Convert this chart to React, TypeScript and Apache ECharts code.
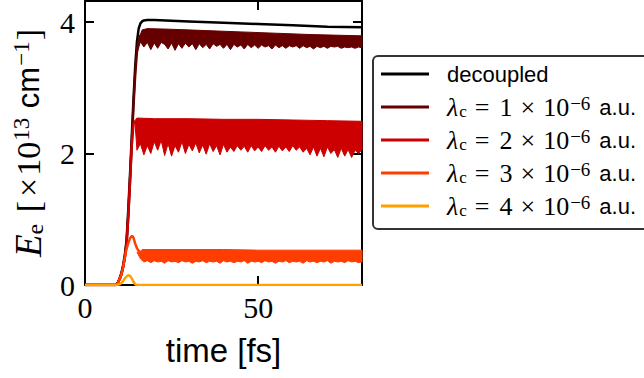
import React, { useEffect, useRef } from "react";
import * as echarts from "echarts";

const SERIF = "'Liberation Serif', 'DejaVu Serif', serif";
const SANS = "'Liberation Sans', Arial, sans-serif";

// ---- data (time in fs, E_e in 1e13 cm^-1) ----
const decoupledTime = [0, 9, 9.5, 10, 10.5, 11, 11.5, 12, 12.5, 13, 13.5, 14, 14.5, 15, 15.5, 16, 16.5, 17, 18, 20, 30, 40, 50, 60, 70, 80];
const decoupledValues = [0, 0, 0.04, 0.1, 0.18, 0.3, 0.46, 0.68, 1.15, 1.68, 2.25, 2.82, 3.33, 3.7, 3.9, 3.98, 4.01, 4.025, 4.03, 4.03, 4.01, 3.99, 3.97, 3.95, 3.93, 3.92];

const lam1Time = [0, 9, 9.5, 10, 10.5, 11, 11.5, 12, 12.5, 13, 13.5, 14, 14.5, 15, 15.5, 16];
const lam1Values = [0, 0, 0.03, 0.09, 0.16, 0.27, 0.42, 0.62, 1.05, 1.58, 2.15, 2.72, 3.2, 3.55, 3.72, 3.8];
const lam2Time = [0, 9, 9.5, 10, 10.5, 11, 11.5, 12, 12.5, 13, 13.5, 14, 14.4];
const lam2Values = [0, 0, 0.03, 0.09, 0.16, 0.27, 0.42, 0.62, 1.05, 1.58, 2.12, 2.45, 2.5];
const lam3Time = [0, 9, 9.5, 10, 10.5, 11, 11.5, 12, 12.5, 13, 13.6, 14, 14.5, 15, 15.5, 15.8];
const lam3Values = [0, 0, 0.03, 0.09, 0.16, 0.27, 0.42, 0.55, 0.64, 0.71, 0.75, 0.72, 0.63, 0.56, 0.52, 0.5];
const lam4Time = [0, 9, 10, 10.5, 11, 11.5, 12, 12.5, 13, 13.5, 14, 14.5, 15, 80];
const lam4Values = [0, 0, 0.01, 0.03, 0.06, 0.1, 0.13, 0.15, 0.14, 0.1, 0.05, 0.01, 0, 0];

// oscillation bands: upper envelope (coarse) and lower envelope (1 fs grid)
const band1UpperTime = [15.5, 16.5, 18, 25, 35, 45, 55, 65, 80];
const band1Upper = [3.74, 3.88, 3.9, 3.89, 3.87, 3.85, 3.83, 3.81, 3.79];
const band2UpperTime = [14.4, 15, 20, 30, 40, 50, 60, 70, 80];
const band2Upper = [2.5, 2.54, 2.53, 2.53, 2.52, 2.52, 2.51, 2.5, 2.49];
const band3UpperTime = [15.8, 16.5, 20, 30, 40, 50, 60, 70, 80];
const band3Upper = [0.5, 0.54, 0.54, 0.54, 0.54, 0.53, 0.53, 0.53, 0.53];

const bandLowerTime = [15, 16, 17, 18, 19, 20, 21, 22, 23, 24, 25, 26, 27, 28, 29, 30, 31, 32, 33, 34, 35, 36, 37, 38, 39, 40, 41, 42, 43, 44, 45, 46, 47, 48, 49, 50, 51, 52, 53, 54, 55, 56, 57, 58, 59, 60, 61, 62, 63, 64, 65, 66, 67, 68, 69, 70, 71, 72, 73, 74, 75, 76, 77, 78, 79, 80];
const band1Lower = [3.52, 3.7, 3.62, 3.69, 3.58, 3.68, 3.6, 3.69, 3.66, 3.59, 3.68, 3.57, 3.67, 3.6, 3.68, 3.62, 3.67, 3.58, 3.67, 3.61, 3.66, 3.59, 3.67, 3.63, 3.66, 3.6, 3.66, 3.58, 3.66, 3.62, 3.65, 3.59, 3.66, 3.61, 3.65, 3.6, 3.65, 3.62, 3.64, 3.59, 3.65, 3.61, 3.64, 3.6, 3.64, 3.62, 3.64, 3.6, 3.64, 3.61, 3.63, 3.59, 3.63, 3.61, 3.63, 3.6, 3.63, 3.62, 3.63, 3.6, 3.62, 3.61, 3.62, 3.6, 3.62, 3.61];
const band2Lower = [2.05, 2.15, 1.98, 2.12, 2.0, 2.18, 2.05, 2.2, 1.97, 2.15, 1.96, 2.12, 2.02, 2.18, 2.0, 2.14, 2.04, 2.16, 2.01, 2.13, 1.99, 2.15, 2.03, 2.12, 1.98, 2.14, 2.02, 2.1, 2.03, 2.12, 2.05, 2.11, 2.02, 2.12, 2.04, 2.1, 2.03, 2.12, 2.05, 2.1, 2.02, 2.11, 2.04, 2.1, 2.03, 2.12, 2.05, 2.1, 2.02, 2.08, 1.98, 2.1, 1.96, 2.08, 1.95, 2.1, 2.0, 2.06, 1.94, 2.08, 1.96, 2.06, 1.94, 2.05, 2.0, 2.06];
const band3Lower = [0.5, 0.4, 0.35, 0.37, 0.34, 0.37, 0.35, 0.36, 0.33, 0.37, 0.35, 0.36, 0.34, 0.37, 0.35, 0.36, 0.33, 0.36, 0.35, 0.37, 0.34, 0.36, 0.35, 0.36, 0.33, 0.37, 0.35, 0.36, 0.34, 0.36, 0.35, 0.37, 0.33, 0.36, 0.35, 0.36, 0.34, 0.37, 0.35, 0.36, 0.33, 0.36, 0.35, 0.37, 0.34, 0.36, 0.35, 0.36, 0.33, 0.37, 0.35, 0.36, 0.34, 0.36, 0.35, 0.37, 0.33, 0.36, 0.35, 0.36, 0.34, 0.37, 0.35, 0.36, 0.34, 0.35];

const couplings = [1, 2, 3, 4];
const seriesColors = ["#000000", "#660000", "#cc0000", "#ff3d00", "#ffa000"];
const seriesNames = ["decoupled", "λc = 1 × 10−6 a.u.", "λc = 2 × 10−6 a.u.", "λc = 3 × 10−6 a.u.", "λc = 4 × 10−6 a.u."];

const xTicksShown = [0, 50];
const yTicksShown = [0, 2, 4];

const zip = (t: number[], v: number[]) => t.map((x, i) => [x, v[i]]);

function bandSeries(upT: number[], up: number[], lowT: number[], low: number[], color: string) {
  return {
    type: "custom",
    silent: true,
    data: [[upT[0], up[0]]],
    encode: { x: 0, y: 1 },
    renderItem: (params: any, api: any) => {
      if (params.dataIndex !== 0) return null;
      const pts: number[][] = [];
      for (let i = 0; i < upT.length; i++) pts.push(api.coord([upT[i], up[i]]));
      for (let i = lowT.length - 1; i >= 0; i--) pts.push(api.coord([lowT[i], low[i]]));
      return {
        type: "polygon",
        shape: { points: pts },
        style: { fill: color, stroke: color, lineWidth: 1 },
      };
    },
  };
}

function lineSeries(name: string, t: number[], v: number[], color: string) {
  return {
    type: "line",
    name,
    data: zip(t, v),
    symbol: "none",
    color,
    lineStyle: { color, width: 2.5 },
  };
}

export default function App() {
  const ref = useRef<HTMLDivElement>(null);
  useEffect(() => {
    if (!ref.current) return;
    const chart = echarts.init(ref.current, undefined, { renderer: "svg" });
    const axisLine = { show: true, onZero: false, lineStyle: { color: "#000", width: 2 } };
    const axisTick = { show: true, inside: true, length: 9, lineStyle: { color: "#000", width: 2 } };
    const yName = "{it|E}{sub|e}{rm| [}{tm|×}{rm|10}{sup|13}{sf| cm}{sup|−1}{rm|]}";
    const legendRich = {
      sf: { fontFamily: SANS, fontSize: 22, color: "#000", lineHeight: 26 },
      it: { fontFamily: SERIF, fontStyle: "italic", fontSize: 26, color: "#000", lineHeight: 26 },
      sub: { fontFamily: SERIF, fontSize: 17, color: "#000", lineHeight: 17, verticalAlign: "bottom", padding: [0, 8, 0, 1] },
      eq: { fontFamily: SERIF, fontSize: 26, color: "#000", lineHeight: 26, padding: [0, 10, 0, 0] },
      num: { fontFamily: SERIF, fontSize: 26, color: "#000", lineHeight: 26, padding: [0, 8, 0, 0] },
      tm: { fontFamily: SERIF, fontSize: 26, color: "#000", lineHeight: 26, padding: [0, 8, 0, 0] },
      rm: { fontFamily: SERIF, fontSize: 26, color: "#000", lineHeight: 26 },
      sup: { fontFamily: SERIF, fontSize: 19, color: "#000", lineHeight: 19, verticalAlign: "top", padding: [0, 9, 0, 1] },
    };
    chart.setOption({
      animation: false,
      backgroundColor: "#fff",
      grid: { left: 85, right: 282, top: 1, bottom: 93, containLabel: false },
      xAxis: [
        {
          type: "value",
          min: 0,
          max: 80,
          interval: 50,
          position: "bottom",
          axisLine,
          axisTick,
          splitLine: { show: false },
          axisLabel: {
            margin: 7,
            color: "#000",
            fontFamily: SERIF,
            fontSize: 30,
            formatter: (v: number) => (xTicksShown.includes(v) ? String(v) : ""),
          },
          name: "time [fs]",
          nameLocation: "middle",
          nameGap: 49,
          nameTextStyle: { fontFamily: SANS, fontSize: 33, color: "#000" },
        },
        {
          type: "value",
          min: 0,
          max: 80,
          interval: 50,
          position: "top",
          axisLine,
          axisTick,
          splitLine: { show: false },
          axisLabel: { show: false },
        },
      ],
      yAxis: [
        {
          type: "value",
          min: 0,
          max: 4.32,
          interval: 2,
          position: "left",
          axisLine,
          axisTick,
          splitLine: { show: false },
          axisLabel: {
            margin: 10,
            color: "#000",
            fontFamily: SERIF,
            fontSize: 30,
            formatter: (v: number) => (yTicksShown.includes(v) ? String(v) : ""),
          },
          name: yName,
          nameLocation: "middle",
          nameRotate: 90,
          nameGap: 38,
          nameTextStyle: {
            color: "#000",
            rich: {
              it: { fontFamily: SERIF, fontStyle: "italic", fontSize: 37, color: "#000", lineHeight: 37 },
              sub: { fontFamily: SERIF, fontSize: 24, color: "#000", lineHeight: 24, verticalAlign: "bottom", padding: [0, 3, 0, 0] },
              rm: { fontFamily: SERIF, fontSize: 34, color: "#000", lineHeight: 37 },
              tm: { fontFamily: SERIF, fontSize: 34, color: "#000", lineHeight: 37, padding: [0, 2, 0, 4] },
              sup: { fontFamily: SERIF, fontSize: 23, color: "#000", lineHeight: 23, verticalAlign: "top", padding: [0, 1, 0, 1] },
              sf: { fontFamily: SANS, fontSize: 31, color: "#000", lineHeight: 37 },
            },
          },
        },
        {
          type: "value",
          min: 0,
          max: 4.32,
          interval: 2,
          position: "right",
          axisLine,
          axisTick,
          splitLine: { show: false },
          axisLabel: { show: false },
        },
      ],
      legend: {
        orient: "vertical",
        left: 373,
        top: 56,
        data: seriesNames,
        icon: "rect",
        itemWidth: 48,
        itemHeight: 3,
        itemGap: 7,
        selectedMode: false,
        padding: [5, 40, 10, 8],
        borderColor: "#333",
        borderWidth: 2,
        borderRadius: 5,
        backgroundColor: "#fff",
        textStyle: { color: "#000", fontSize: 22, fontFamily: SANS, lineHeight: 26, padding: [0, 0, 0, 13], rich: legendRich },
        formatter: (name: string) => {
          const idx = seriesNames.indexOf(name);
          if (idx <= 0) return "{sf|decoupled}";
          return `{it|λ}{sub|c}{eq|=}{num|${couplings[idx - 1]}}{tm|×}{rm|10}{sup|−6}{sf|a.u.}`;
        },
      },
      series: [
        lineSeries(seriesNames[0], decoupledTime, decoupledValues, seriesColors[0]),
        lineSeries(seriesNames[1], lam1Time, lam1Values, seriesColors[1]),
        bandSeries(band1UpperTime, band1Upper, bandLowerTime, band1Lower, seriesColors[1]),
        lineSeries(seriesNames[2], lam2Time, lam2Values, seriesColors[2]),
        bandSeries(band2UpperTime, band2Upper, bandLowerTime, band2Lower, seriesColors[2]),
        lineSeries(seriesNames[3], lam3Time, lam3Values, seriesColors[3]),
        bandSeries(band3UpperTime, band3Upper, bandLowerTime, band3Lower, seriesColors[3]),
        lineSeries(seriesNames[4], lam4Time, lam4Values, seriesColors[4]),
      ],
    });
    return () => chart.dispose();
  }, []);
  return <div ref={ref} style={{ position: "fixed", left: 0, top: 0, width: 644, height: 378 }} />;
}
